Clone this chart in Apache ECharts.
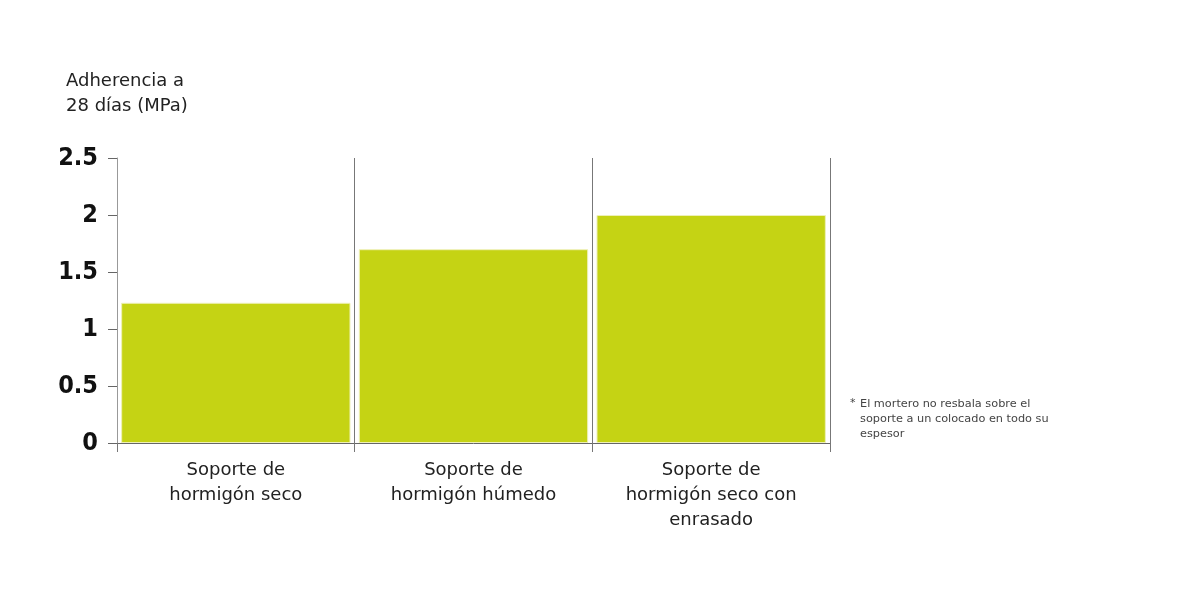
<!DOCTYPE html>
<html>
<head>
<meta charset="utf-8">
<script src="https://cdn.jsdelivr.net/npm/echarts@6/dist/echarts.min.js"></script>
<style>html,body{margin:0;padding:0;background:#fff;}#c{width:1200px;height:615px;}</style>
</head>
<body>
<div id="c"></div>
<script>
const categories = ['Soporte de\nhormigón seco', 'Soporte de\nhormigón húmedo', 'Soporte de\nhormigón seco con\nenrasado'];
const values = [1.23, 1.7, 2.0];
const yTicks = [0, 0.5, 1, 1.5, 2, 2.5];
const yTitle = 'Adherencia a\n28 días (MPa)';
const footnoteLines = ['El mortero no resbala sobre el', 'soporte a un colocado en todo su', 'espesor'];

const textFont = '"DejaVu Sans", Inter, sans-serif';
const chart = echarts.init(document.getElementById('c'));
chart.setOption({
  backgroundColor: '#ffffff',
  animation: false,
  grid: { left: 117, right: 370, top: 158, bottom: 172 },
  xAxis: {
    type: 'category',
    data: categories,
    boundaryGap: true,
    axisLine: { show: true, lineStyle: { color: '#666', width: 1 } },
    axisTick: { show: true, length: 9, lineStyle: { color: '#777' } },
    splitLine: { show: true, lineStyle: { color: '#777', width: 1 } },
    axisLabel: {
      margin: 15, color: '#222', fontSize: 18, lineHeight: 25,
      fontFamily: textFont, interval: 0
    }
  },
  yAxis: {
    type: 'value',
    min: yTicks[0], max: yTicks[yTicks.length - 1], interval: 0.5,
    axisLine: { show: true, lineStyle: { color: '#999', width: 1 } },
    axisTick: { show: true, length: 9, lineStyle: { color: '#666' } },
    splitLine: { show: false },
    axisLabel: {
      margin: 19, color: '#111', fontSize: 25, fontWeight: 'bold',
      fontFamily: '"DejaVu Sans Condensed", "Liberation Sans Narrow", sans-serif',
      formatter: v => String(v)
    }
  },
  series: [{
    type: 'bar',
    data: values,
    barCategoryGap: '3.5%',
    itemStyle: { color: '#c5d314', borderColor: '#eef0b8', borderWidth: 1 },
    z: 1
  }],
  graphic: [
    { type: 'text', left: 66, top: 69, style: { text: yTitle, fontSize: 18, lineHeight: 25, fill: '#222', fontFamily: textFont } },
    { type: 'text', left: 850, top: 398, style: { text: '*', fontSize: 11, fill: '#444', fontFamily: textFont } },
    { type: 'text', left: 860, top: 397, style: { text: footnoteLines.join('\n'), fontSize: 11.3, lineHeight: 15, fill: '#444', fontFamily: textFont } }
  ]
});
</script>
</body>
</html>
